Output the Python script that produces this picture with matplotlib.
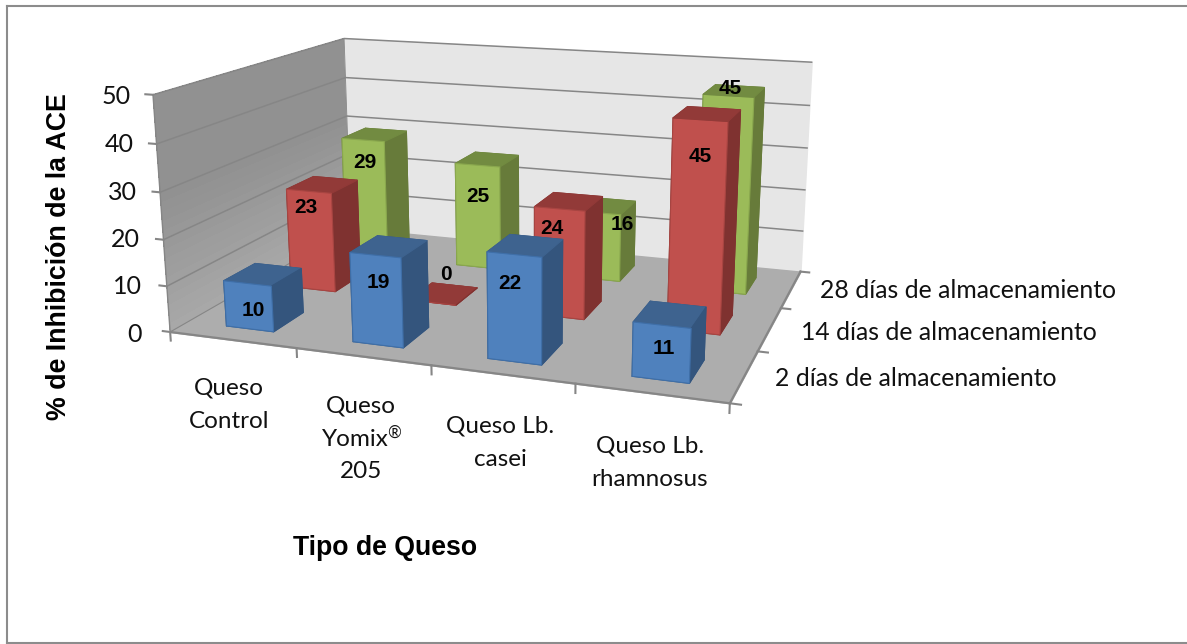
import numpy as np
import matplotlib
matplotlib.use("Agg")
import matplotlib.pyplot as plt
from matplotlib.lines import Line2D
from mpl_toolkits.mplot3d.art3d import Poly3DCollection

# datos
categorias = ["Queso\nControl", "Queso\nYomix®\n205", "Queso Lb.\ncasei", "Queso Lb.\nrhamnosus"]
series = ["2 días de almacenamiento", "14 días de almacenamiento", "28 días de almacenamiento"]
dias_2 = [10, 19, 22, 11]
dias_14 = [23, 0, 24, 45]
dias_28 = [29, 25, 16, 45]
valores = [dias_2, dias_14, dias_28]
ticks_z = [0, 10, 20, 30, 40, 50]

W, H = 1187, 644
ANCHO_BARRA = 0.38
FONDO_BARRA = 0.46

# colores por serie: frente, lado, tapa
colores = [("#4f81bd", "#34557d", "#3e638f"),
           ("#c0504d", "#7f3230", "#923a38"),
           ("#9bbb59", "#677b3a", "#728b41")]
bordes = ["#3f6fa8", "#a84542", "#8aa84e"]

# esquinas de la caja 3D y su posicion en pixeles, para armar la camara
esquinas = [(0, 0, 0), (4, 0, 0), (4, 3, 0), (0, 3, 0), (0, 0, 50), (0, 3, 50), (4, 3, 50)]
pixeles = [(169, 332), (730, 403), (800, 272), (352, 228), (154, 95), (343, 38.5), (812, 62)]


def camara(mundo, imagen):
    filas = []
    for (x, y, z), (u, v) in zip(mundo, imagen):
        filas.append([x, y, z, 1, 0, 0, 0, 0, -u * x, -u * y, -u * z, -u])
        filas.append([0, 0, 0, 0, x, y, z, 1, -v * x, -v * y, -v * z, -v])
    p = np.linalg.svd(np.array(filas, dtype=float))[2][-1].reshape(3, 4)
    if p[2] @ np.array([2, 1.5, 25, 1]) < 0:
        p = -p
    return np.array([p[0], p[1], [0, 0, 0, -1], p[2]])


def fx(x):
    return x / W


def fy(y):
    return 1 - y / H


fig = plt.figure(figsize=(W / 100, H / 100), dpi=100, facecolor="white")
ax = fig.add_axes([0, (H - W) / (2 * H), 1, W / H], projection="3d", computed_zorder=False)
ax.set_axis_off()
ax.patch.set_visible(False)
# ortho solo para que las lineas no se recorten a [-1, 1]; la camara es M
ax.set_proj_type("ortho")
M = camara(esquinas, pixeles)
ax.get_proj = lambda: M

# pared izquierda en bandas (degradado), pared del fondo y piso
bandas = np.linspace(0, 50, 26)
for k in range(25):
    g = (0xa8 + (0x91 - 0xa8) * min(1, k / 14)) / 255
    ax.add_collection3d(Poly3DCollection(
        [[(0, 0, bandas[k]), (0, 3, bandas[k]), (0, 3, bandas[k + 1]), (0, 0, bandas[k + 1])]],
        facecolors=(g, g, g), edgecolors="none", antialiaseds=False, zorder=1))
ax.add_collection3d(Poly3DCollection([[(0, 3, 0), (4, 3, 0), (4, 3, 50), (0, 3, 50)]],
                                     facecolors="#e6e6e6", edgecolors="#e6e6e6", zorder=1))
ax.add_collection3d(Poly3DCollection([[(0, 0, 0), (4, 0, 0), (4, 3, 0), (0, 3, 0)]],
                                     facecolors="#adadad", edgecolors="#adadad", zorder=1))

# rejilla y marcas de los ejes
gris = "#868686"
for z in ticks_z:
    if z > 0:
        ax.plot([0, 0, 4], [0, 3, 3], [z, z, z], color=gris, lw=1.1, zorder=2)
    ax.plot([0, -0.06], [0, 0], [z, z], color=gris, lw=1.5, zorder=2)
ax.plot([0, 0], [0, 3], [0, 0], color=gris, lw=0.8, zorder=2)
ax.plot([0, 0], [3, 3], [0, 50], color=gris, lw=0.6, zorder=2)
ax.plot([0, 0], [0, 0], [0, 50], color=gris, lw=1, zorder=2)
ax.plot([0, 4], [0, 0], [0, 0], color=gris, lw=1.6, zorder=2)
ax.plot([4, 4], [0, 3], [0, 0], color=gris, lw=1.6, zorder=2)
for i in range(5):
    ax.plot([i, i], [0, 0], [0, -1.9], color=gris, lw=1.5, zorder=2)
for j in range(4):
    ax.plot([4, 4.07], [j, j], [0, 0], color=gris, lw=1.5, zorder=2)

# barras de atras hacia adelante
orden = 3
for j in [2, 1, 0]:
    frente, lado, tapa = colores[j]
    for i, v in enumerate(valores[j]):
        ax.bar3d([i + 0.5 - ANCHO_BARRA / 2], [j + 0.25], [0],
                 ANCHO_BARRA, FONDO_BARRA, [v],
                 color=[tapa, tapa, frente, lado, lado, lado],
                 edgecolors=[tapa, tapa, bordes[j], lado, lado, lado],
                 linewidths=0.8, shade=False, zorder=orden)
        orden += 1

ax.viewLim.intervalx = (0, W)
ax.viewLim.intervaly = ((H + W) / 2, (H - W) / 2)

# etiquetas de valor sobre cada barra
pos_etiquetas = [[(253, 310), (378, 282), (510, 283), (664, 349)],
                 [(306, 208), (446, 274), (552, 228), (700, 156)],
                 [(365, 163), (478, 196), (622, 224), (730, 88)]]
for j in range(3):
    for v, (x, y) in zip(valores[j], pos_etiquetas[j]):
        fig.text(fx(x), fy(y), str(v), family="Liberation Sans", weight="bold",
                 fontsize=15, ha="center", va="center", color="black")

# textos de los ejes
tinta = "#111111"
for t, (x, y) in zip(ticks_z, [(134, 334), (127, 287), (125, 239), (122, 192), (119, 144), (116, 96)]):
    fig.text(fx(x), fy(y), str(t), family="Lato", fontsize=18, ha="center", va="center", color=tinta)

# categorias linea por linea; el ® va aparte, chico y arriba
for c, (x, y) in zip(categorias, [(229, 388), (361, 406), (500, 426), (650, 446)]):
    for k, linea in enumerate(c.split("\n")):
        yl = y + k * 33
        if "®" in linea:
            fig.text(fx(x - 6), fy(yl), linea.replace("®", ""), family="Lato", fontsize=17.5,
                     ha="center", va="center", color=tinta)
            fig.text(fx(x + 33), fy(yl - 6), "®", family="Lato", fontsize=12,
                     ha="center", va="center", color=tinta)
        else:
            fig.text(fx(x), fy(yl), linea, family="Lato", fontsize=17.5,
                     ha="center", va="center", color=tinta)
for s, (x, y) in zip(series, [(775, 378), (801, 332), (820, 291)]):
    fig.text(fx(x), fy(y), s, family="Lato", fontsize=17.8, ha="left", va="center", color=tinta)

fig.text(fx(59), fy(257), "% de Inhibición de la ACE", family="Liberation Sans", weight="bold",
         fontsize=19.3, rotation=90, ha="center", va="center")
fig.text(fx(385), fy(548), "Tipo de Queso", family="Liberation Sans", weight="bold",
         fontsize=19.2, ha="center", va="center")

# marco del grafico
marco = "#8c8c8c"
for xs, ys in [([7, 7], [5.5, 643]), ([7, W], [5.5, 5.5]), ([7, W], [643, 643])]:
    fig.add_artist(Line2D([fx(a) for a in xs], [fy(b) for b in ys], color=marco, lw=1.5))

fig.savefig("out.png", dpi=100)
